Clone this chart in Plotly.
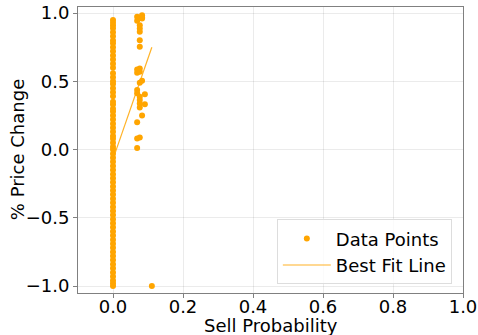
import plotly.graph_objects as go

# Data points at sell probability 0
zero_y = [-1.00, -0.98, -0.96, -0.93, -0.90, -0.87, -0.84, -0.81, -0.78, -0.75,
          -0.72, -0.69, -0.66, -0.63, -0.60, -0.57, -0.54, -0.51, -0.48, -0.45,
          -0.42, -0.39, -0.36, -0.33, -0.30, -0.27, -0.24, -0.21, -0.18, -0.15,
          -0.12, -0.09, -0.06, -0.03, 0.00, 0.02, 0.05, 0.08, 0.10, 0.13, 0.16,
          0.19, 0.22, 0.25, 0.28, 0.30, 0.33, 0.35, 0.39, 0.42, 0.45, 0.48, 0.50,
          0.53, 0.56, 0.60, 0.63, 0.66, 0.69, 0.72, 0.75, 0.78, 0.80, 0.83, 0.86,
          0.89, 0.91, 0.93, 0.95]

# Data points with non-zero sell probability
cluster_x = [0.069, 0.069, 0.083, 0.083, 0.083, 0.0765, 0.0765, 0.0765, 0.0765, 0.0765,
             0.069, 0.069, 0.0765, 0.0765, 0.083, 0.0765, 0.069, 0.069, 0.0765, 0.0765,
             0.0765, 0.0765, 0.091, 0.091, 0.083, 0.069, 0.069, 0.0765, 0.069, 0.111]
cluster_y = [0.973, 0.944, 0.985, 0.960, 0.970, 0.912, 0.888, 0.863, 0.802, 0.753,
             0.587, 0.563, 0.595, 0.570, 0.504, 0.490, 0.436, 0.412, 0.387, 0.363,
             0.338, 0.309, 0.405, 0.333, 0.250, 0.200, 0.082, 0.089, 0.011, -1.00]

# Best fit line endpoints
fit_x = [0.0, 0.111]
fit_y = [-0.07, 0.75]

x_ticks = [0, 0.2, 0.4, 0.6, 0.8, 1.0]
x_tick_labels = ["0.0", "0.2", "0.4", "0.6", "0.8", "1.0"]
y_ticks = [-1.0, -0.5, 0.0, 0.5, 1.0]
y_tick_labels = ["\u22121.0", "\u22120.5", "0.0", "0.5", "1.0"]

all_x = [0.0] * len(zero_y) + cluster_x
all_y = zero_y + cluster_y

font = "DejaVu Sans, Liberation Sans, sans-serif"
FS = 18

fig = go.Figure()
fig.add_trace(go.Scatter(x=all_x, y=all_y, mode="markers", name="Data Points",
                         marker=dict(color="#FFA500", size=6, line=dict(width=0))))
fig.add_trace(go.Scatter(x=fit_x, y=fit_y, mode="lines", name="Best Fit Line",
                         line=dict(color="rgba(255,165,0,0.85)", width=1.2)))

axis_common = dict(showline=True, mirror=True, linecolor="#808080", linewidth=1,
                   ticks="outside", ticklen=4, tickcolor="#808080",
                   showgrid=True, gridcolor="rgba(0,0,0,0.08)", gridwidth=1,
                   zeroline=False, automargin=False,
                   tickfont=dict(size=FS, color="black", family=font))

fig.update_xaxes(range=[-0.1, 1.0], tickvals=x_ticks, ticktext=x_tick_labels,
                 ticklabelstandoff=-7, **axis_common)
fig.update_yaxes(range=[-1.051, 1.045], tickvals=y_ticks, ticktext=y_tick_labels, **axis_common)

fig.add_annotation(text="Sell Probability", xref="paper", yref="paper",
                   x=0.5, y=-0.112, xanchor="center", yanchor="middle", showarrow=False,
                   font=dict(size=FS, family=font, color="black"))
fig.add_annotation(text="% Price Change", xref="paper", yref="paper",
                   x=-0.158, y=0.5, xanchor="center", yanchor="middle", textangle=-90,
                   showarrow=False, font=dict(size=FS, family=font, color="black"))

fig.update_layout(
    width=478, height=335,
    margin=dict(l=78, r=15, t=7, b=42),
    paper_bgcolor="white", plot_bgcolor="white",
    font=dict(family=font, size=FS, color="black"),
    showlegend=True,
    legend=dict(x=0.971, y=0.03, xanchor="right", yanchor="bottom",
                bgcolor="rgba(255,255,255,0.8)", bordercolor="#dddddd", borderwidth=1,
                font=dict(size=FS, family=font, color="black"),
                itemwidth=48, tracegroupgap=0),
)

fig.write_html("out.html", config={"displayModeBar": False},
               post_script="document.body.style.margin='0';document.body.style.overflow='hidden';")
